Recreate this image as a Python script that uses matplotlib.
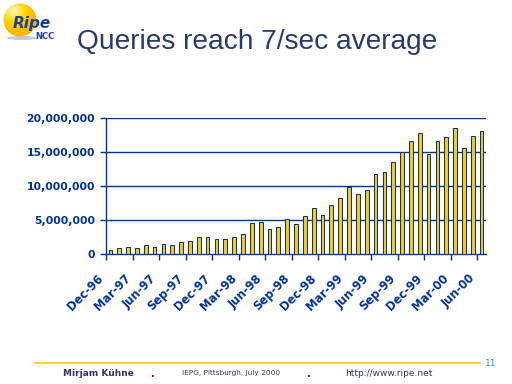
# -*- coding: utf-8 -*-
"""
Queries reach 7/sec average - monthly query counts Dec-96 .. Jun-00
"""
import numpy as np
import pandas as pd
import matplotlib
matplotlib.use('Agg')
import matplotlib.pyplot as plt
from matplotlib.patches import Circle, Ellipse
from matplotlib.transforms import ScaledTranslation

BLUE = '#003399'
GOLD = '#ffcc00'

# monthly queries (millions)
months = pd.date_range('1996-12-01', periods=43, freq='MS')
queries = [0.59, 0.88, 1.08, 0.88, 1.32, 1.08, 1.47, 1.32, 1.76, 1.91,
           2.55, 2.55, 2.21, 2.21, 2.55, 2.94, 4.56, 4.71, 3.68, 3.97,
           5.20, 4.41, 5.59, 6.76, 5.74, 7.20, 8.24, 9.85, 8.82, 9.41,
           11.76, 12.06, 13.53, 15.0, 16.6, 17.8, 14.7, 16.6, 17.2, 18.5,
           15.6, 17.35, 18.1]
yticks = [0, 5e6, 10e6, 15e6, 20e6]
title = 'Queries reach 7/sec average'

fig = plt.figure(figsize=(5.12, 3.84), dpi=100)
fig.patch.set_facecolor('white')

# ---- chart
ax = fig.add_axes([106/512, 1-254/384, 380/512, (254-118.3)/384])
x = np.arange(len(queries))
vals = np.array(queries) * 1e6
ax.bar(x, vals, width=0.42, color=GOLD, edgecolor=BLUE, linewidth=0.75,
       zorder=3)
ax.set_xlim(-0.5, len(queries) - 0.5)
ax.set_ylim(0, 20e6)
ax.set_yticks(yticks)
ax.set_yticklabels(['{:,.0f}'.format(v) for v in yticks], fontsize=7.8,
                   fontweight='bold', color=BLUE)
for v in yticks[1:]:
    ax.axhline(v, color=BLUE, lw=1.0, zorder=1)

# ticks between groups of 3 months, labels on every 3rd month
ax.set_xticks(np.arange(-0.5, len(queries), 3))
ax.set_xticklabels([])
ax.set_xticks(x[::3], minor=True)
ax.set_xticklabels([m.strftime('%b-%y') for m in months[::3]], minor=True,
                   rotation=45, ha='right', va='top', fontsize=8.3,
                   fontweight='bold', color=BLUE)
ax.tick_params(axis='x', which='major', length=4, width=1, color=BLUE, direction='out')
ax.tick_params(axis='x', which='minor', length=0, pad=13)
ax.tick_params(axis='y', length=4, width=1, color=BLUE, pad=4)
offs = ScaledTranslation(-4/100, 0, fig.dpi_scale_trans)
for lab in ax.get_xticklabels(minor=True):
    lab.set_transform(lab.get_transform() + offs)

for s in ['top', 'right']:
    ax.spines[s].set_visible(False)
for s in ['left', 'bottom']:
    ax.spines[s].set_color(BLUE)
    ax.spines[s].set_linewidth(1.0)

# ---- title
fig.text(77/512, 1-49/384, title, fontsize=20.2, family='Liberation Sans',
         color='#283a6e', ha='left', va='baseline')

# ---- logo
lax = fig.add_axes([0, 1-42/384, 64/512, 42/384])
lax.set_xlim(0, 64)
lax.set_ylim(42, 0)
lax.axis('off')
lax.add_patch(Ellipse((22, 38), 30, 4, color='#9aa6c8', alpha=0.6, lw=0))
gx, gy = np.meshgrid(np.linspace(0, 64, 256), np.linspace(0, 42, 168))
r = np.hypot(gx - 14, gy - 11) / 24
img = np.zeros(gx.shape + (3,))
img[..., 0] = 1.0
img[..., 1] = np.clip(0.98 - 0.3*r, 0.72, 1)
img[..., 2] = np.clip(0.75 - 1.6*r, 0, 1)
im = lax.imshow(img, extent=(0, 64, 42, 0), zorder=1)
circ = Circle((20, 20), 16.5, transform=lax.transData, facecolor='none', lw=0)
lax.add_patch(circ)
im.set_clip_path(circ)
lax.text(13, 28, 'Ripe', fontsize=11, fontweight='bold', style='italic',
         color='#1a3d99', ha='left', va='baseline', zorder=3)
lax.text(35, 39, 'NCC', fontsize=6, fontweight='bold', color='#1a3d99',
         ha='left', va='baseline', zorder=3)

# ---- footer
fig.add_artist(plt.Line2D([35/512, 480/512], [1-363/384, 1-363/384],
                          color=GOLD, lw=1.2))
fig.text(491/512, 1-363/384, '11', fontsize=6.5, color='#339999',
         ha='center', va='center')
fig.text(98/512, 1-373/384, 'Mirjam Kühne', fontsize=6.5, fontweight='bold',
         color='#333366', ha='center', va='center')
fig.text(153/512, 1-374/384, '.', fontsize=7, fontweight='bold', color='#990033',
         ha='center', va='center')
fig.text(231/512, 1-373/384, 'IEPG, Pittsburgh, July 2000', fontsize=5.3,
         color='#333366', ha='center', va='center')
fig.text(309/512, 1-374/384, '.', fontsize=7, fontweight='bold', color='#990033',
         ha='center', va='center')
fig.text(389/512, 1-373/384, 'http://www.ripe.net', fontsize=6.5,
         color='#333366', ha='center', va='center')

fig.savefig('out.png', dpi=100)
